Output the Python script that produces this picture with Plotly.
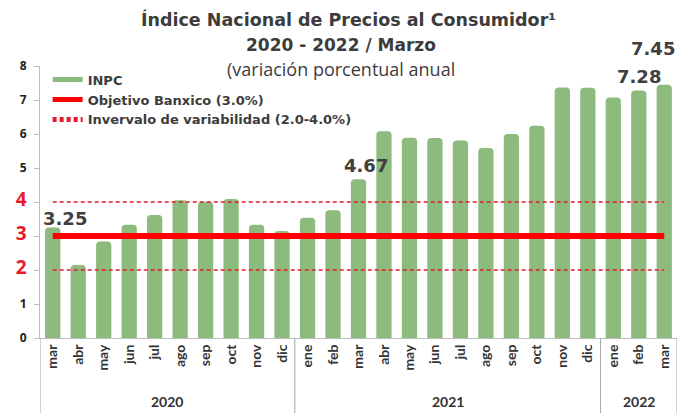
import plotly.graph_objects as go

years = ["2020", "2021", "2022"]
year_counts = [10, 12, 3]
months = ["mar", "abr", "may", "jun", "jul", "ago", "sep", "oct", "nov", "dic",
          "ene", "feb", "mar", "abr", "may", "jun", "jul", "ago", "sep", "oct", "nov", "dic",
          "ene", "feb", "mar"]
inpc = [3.25, 2.15, 2.84, 3.33, 3.62, 4.05, 4.01, 4.09, 3.33, 3.15,
        3.54, 3.76, 4.67, 6.08, 5.89, 5.88, 5.81, 5.59, 6.00, 6.24, 7.37, 7.36,
        7.07, 7.28, 7.45]
objetivo = [3.0] * 25
limite_inf = [2.0] * 25
limite_sup = [4.0] * 25
label_idx = [0, 12, 23, 24]
y_ticks = [0, 1, 2, 3, 4, 5, 6, 7, 8]

GREEN = "#8dbb7d"
RED = "#ff0000"
DRED = "#e8192c"
TXT = "#3c3c3c"
WIDE = "DejaVu Sans"

x = list(range(len(months)))

fig = go.Figure()
fig.add_trace(go.Bar(x=x, y=inpc, name="INPC", showlegend=False,
                     marker=dict(color=GREEN, cornerradius=4, line_width=0)))
# legend swatch for the bars (wide rounded rectangle as in the reference)
fig.add_trace(go.Scatter(x=[None], y=[None], mode="lines", name="INPC",
                         line=dict(color=GREEN, width=9)))
fig.add_trace(go.Scatter(x=x, y=objetivo, mode="lines", name="Objetivo Banxico (3.0%)",
                         line=dict(color=RED, width=6)))
fig.add_trace(go.Scatter(x=x, y=limite_sup, mode="lines", name="Invervalo de variabilidad (2.0-4.0%)",
                         line=dict(color=DRED, width=1.5, dash="4px,3px")))
fig.add_trace(go.Scatter(x=x, y=limite_inf, mode="lines", showlegend=False,
                         line=dict(color=DRED, width=1.5, dash="4px,3px")))

shifts = {0: (12, -3), 12: (7, 1), 23: (0, 1), 24: (-11, 24)}
for i in label_idx:
    xs, ys = shifts[i]
    fig.add_annotation(x=x[i], y=inpc[i], xref="x", yref="y", text=f"<b>{inpc[i]:.2f}</b>",
                       showarrow=False, yanchor="bottom", xshift=xs, yshift=ys,
                       font=dict(family=WIDE, size=18, color="#404040"))

# year group dividers and labels
ybot = -(413 - 338) / 272
bounds = [-0.5]
for c in year_counts:
    bounds.append(bounds[-1] + c)
for b in bounds:
    fig.add_shape(type="line", xref="x", yref="paper", x0=b, x1=b, y0=0, y1=ybot,
                  line=dict(color="#a6a6a6", width=1))
for yr, a, b in zip(years, bounds[:-1], bounds[1:]):
    fig.add_annotation(x=(a + b) / 2, y=-(401 - 338) / 272, xref="x", yref="paper", text=f"<b>{yr}</b>",
                       showarrow=False, yanchor="middle",
                       font=dict(family="Lato", size=14, color="#333333"))

ticktext = []
for t in y_ticks:
    if t in (2, 3, 4):
        ticktext.append(f"<span style='color:{DRED};font-size:19px'><b>{t}</b></span>")
    else:
        ticktext.append(f"<b>{t}</b>")

titles = [
    ("<b>Índice Nacional de Precios al Consumidor¹</b>", 0.484, 20, WIDE, 17.5),
    ("<b>2020 - 2022 / Marzo</b>", 0.473, 45, WIDE, 17),
    ("(variación porcentual anual", 0.473, 69, "Open Sans", 18),
]
for txt, xp, ypx, fam, sz in titles:
    fig.add_annotation(x=xp, y=1 + (66 - ypx) / 272, xref="paper", yref="paper", text=txt,
                       showarrow=False, xanchor="center", yanchor="middle",
                       font=dict(family=fam, size=sz, color=TXT))

fig.update_layout(
    width=689, height=413,
    margin=dict(l=40, r=12, t=66, b=75),
    paper_bgcolor="white", plot_bgcolor="white",
    bargap=0.4,
    font=dict(family="Open Sans", color=TXT),
    legend=dict(x=0.012, y=1.005, xanchor="left", yanchor="top", bgcolor="rgba(0,0,0,0)",
                font=dict(family=WIDE, size=13, color=TXT, weight="bold"),
                tracegroupgap=0, itemsizing="constant", traceorder="normal", itemwidth=30),
    xaxis=dict(range=[-0.5, 24.5], tickvals=x, ticktext=months, tickangle=-90, showline=True,
               linecolor="#bfbfbf", ticks="", showgrid=False, zeroline=False, automargin=False,
               tickfont=dict(family="Lato", size=14, color="#333333", weight="bold")),
    yaxis=dict(range=[0, 8], tickvals=y_ticks, ticktext=ticktext, showgrid=False, zeroline=False,
               showline=True, linecolor="#bfbfbf", ticks="outside", ticklen=5, tickcolor="#bfbfbf",
               ticklabelstandoff=5,
               automargin=False, tickfont=dict(family="Open Sans", size=12, color="#222222")),
)

fig.write_html("out.html", config={"displayModeBar": False},
               post_script="document.body.style.margin='0';")
